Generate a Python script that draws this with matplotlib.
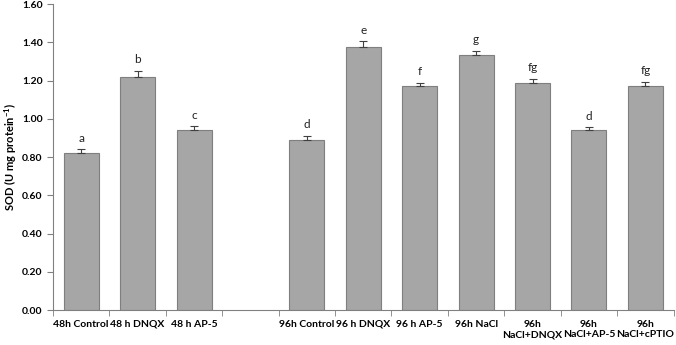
import numpy as np
from matplotlib import pyplot as plt

labels = ['48h Control', '48 h DNQX', '48 h AP-5', '',
          '96h Control', '96 h DNQX', '96 h AP-5', '96h NaCl',
          '96h\nNaCl+DNQX', '96h\nNaCl+AP-5', '96h\nNaCl+cPTIO']
values = [0.82, 1.22, 0.94, np.nan, 0.89, 1.375, 1.17, 1.335, 1.19, 0.94, 1.17]
errors = [0.02, 0.03, 0.02, np.nan, 0.02, 0.03, 0.02, 0.02, 0.02, 0.015, 0.025]
letters = ['a', 'b', 'c', '', 'd', 'e', 'f', 'g', 'fg', 'd', 'fg']

plt.rcParams['font.family'] = ['Lato', 'DejaVu Sans']
plt.rcParams['mathtext.fontset'] = 'custom'
plt.rcParams['mathtext.bf'] = 'Lato:bold'

fig = plt.figure(figsize=(6.76, 3.45), dpi=100)
ax = fig.add_axes([0.0784, 0.1014, 0.918, 0.8866])

x = np.arange(len(labels))
ax.bar(x, values, width=0.62, color='#a6a6a6', edgecolor='#7f7f7f', linewidth=0.8, zorder=2)
ax.errorbar(x, values, yerr=[np.zeros(len(x)), errors], fmt='none', ecolor='#404040',
            elinewidth=0.8, capsize=3, capthick=0.8, zorder=3)

for xi, v, e, l in zip(x, values, errors, letters):
    if l:
        ax.text(xi, v + e + 0.03, l, ha='center', va='bottom', fontsize=8.5, color='#222222')

ax.set_xlim(-0.5, len(labels) - 0.5)
ax.set_ylim(0, 1.6)
ticks = np.arange(0, 1.61, 0.2)
ax.set_yticks(ticks)
ax.set_yticklabels([f'{t:.2f}' for t in ticks], fontsize=7.5, fontweight='bold')
ax.set_xticks(x)
ax.set_xticklabels(labels, fontsize=7.5, fontweight='bold', linespacing=1.25)
ax.tick_params(axis='x', which='major', length=0, pad=7)
ax.set_xticks(np.arange(-0.5, len(labels)), minor=True)
ax.tick_params(axis='x', which='minor', length=4, color='#808080', direction='out')
ax.tick_params(axis='y', length=4, color='#808080', direction='out')

for s in ['top', 'right']:
    ax.spines[s].set_visible(False)
for s in ['left', 'bottom']:
    ax.spines[s].set_color('#808080')
    ax.spines[s].set_linewidth(0.8)

ax.set_ylabel('SOD (U mg protein$^{\\mathbf{-1}}$)', fontsize=8, fontweight='bold', labelpad=2)

fig.savefig('out.png', dpi=100)
